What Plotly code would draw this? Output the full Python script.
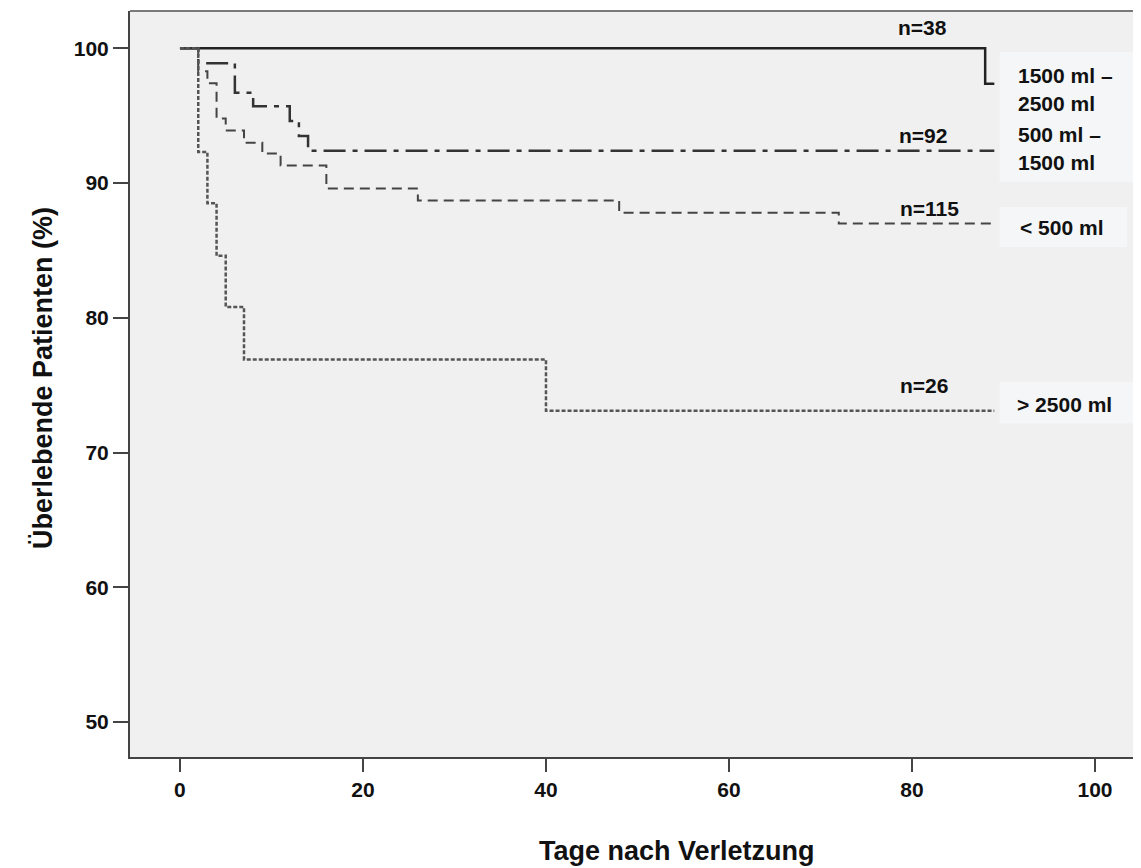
import plotly.graph_objects as go

# ---- data (Kaplan-Meier step values) ----
t_1500_2500 = [0, 88, 89]
s_1500_2500 = [100, 97.37, 97.37]

t_500_1500 = [0, 2, 6, 8, 12, 13, 14, 89]
s_500_1500 = [100, 98.9, 96.7, 95.7, 94.6, 93.5, 92.4, 92.4]

t_lt500 = [0, 2, 3, 4, 5, 7, 9, 11, 16, 26, 48, 72, 89]
s_lt500 = [100, 98.3, 97.4, 94.8, 93.9, 93.0, 92.2, 91.3, 89.6, 88.7, 87.8, 87.0, 87.0]

t_gt2500 = [0, 2, 3, 4, 5, 7, 40, 89]
s_gt2500 = [100, 92.3, 88.5, 84.6, 80.8, 76.9, 73.1, 73.1]

x_ticks = [0, 20, 40, 60, 80, 100]
y_ticks = [50, 60, 70, 80, 90, 100]

n_labels = ["n=38", "n=92", "n=115", "n=26"]
group_labels = ["1500 ml –", "2500 ml", "500 ml –", "1500 ml", "< 500 ml", "> 2500 ml"]

FONT = "Liberation Sans, Arial, sans-serif"

fig = go.Figure()

fig.add_trace(go.Scatter(x=t_1500_2500, y=s_1500_2500, mode="lines", line_shape="hv",
                         line=dict(color="#222222", width=2.5), showlegend=False))
fig.add_trace(go.Scatter(x=t_500_1500, y=s_500_1500, mode="lines", line_shape="hv",
                         line=dict(color="#333333", width=2.5, dash="22px,7px,5px,7px"), showlegend=False))
fig.add_trace(go.Scatter(x=t_lt500, y=s_lt500, mode="lines", line_shape="hv",
                         line=dict(color="#444444", width=2, dash="10px,6px"), showlegend=False))
fig.add_trace(go.Scatter(x=t_gt2500, y=s_gt2500, mode="lines", line_shape="hv",
                         line=dict(color="#555555", width=2.5, dash="4px,2px"), showlegend=False))

# label boxes
box_fill = "#f5f6f7"
shapes = [
    dict(type="rect", xref="x", yref="y", x0=89.6, x1=106, y0=90.07, y1=99.73,
         fillcolor=box_fill, line=dict(width=0), layer="below"),
    dict(type="rect", xref="x", yref="y", x0=89.6, x1=103.5, y0=85.25, y1=88.22,
         fillcolor=box_fill, line=dict(width=0), layer="below"),
    dict(type="rect", xref="x", yref="y", x0=89.6, x1=104.6, y0=72.18, y1=75.23,
         fillcolor=box_fill, line=dict(width=0), layer="below"),
    # top frame line
    dict(type="line", xref="paper", yref="paper", x0=0, x1=1, y0=1, y1=1,
         line=dict(color="#7a7a7a", width=2)),
]

ann_font = dict(family=FONT, size=21, color="#111111", weight="bold")
annotations = []
n_pos = [(81.2, 101.58), (81.2, 93.56), (81.9, 88.14), (81.3, 75.0)]
for txt, (ax, ay) in zip(n_labels, n_pos):
    annotations.append(dict(x=ax, y=ay, xref="x", yref="y", text=txt, showarrow=False,
                            font=ann_font, xanchor="center", yanchor="middle"))
g_pos = [(91.4, 98.02), (91.4, 95.94), (91.4, 93.63), (91.4, 91.56), (91.6, 86.73), (91.3, 73.59)]
for txt, (ax, ay) in zip(group_labels, g_pos):
    annotations.append(dict(x=ax, y=ay, xref="x", yref="y", text=txt, showarrow=False,
                            font=ann_font, xanchor="left", yanchor="middle"))

title_font = dict(family=FONT, size=27, color="#111111", weight="bold")
annotations.append(dict(x=-0.086, y=0.508, xref="paper", yref="paper",
                        text="Überlebende Patienten (%)", textangle=-90, showarrow=False,
                        font=title_font, xanchor="center", yanchor="middle"))
annotations.append(dict(x=0.541, y=-0.126, xref="paper", yref="paper",
                        text="Tage nach Verletzung", showarrow=False,
                        font=title_font, xanchor="center", yanchor="middle"))

tick_font = dict(family=FONT, size=21, color="#111111", weight="bold")

# page body has an 8px default margin; the figure is sized/offset to compensate
fig.update_layout(
    width=1133, height=860,
    margin=dict(l=122, r=0, t=3, b=111),
    paper_bgcolor="white",
    plot_bgcolor="#f0f0f0",
    shapes=shapes,
    annotations=annotations,
    xaxis=dict(range=[-5.46, 105.03], tickvals=x_ticks, ticktext=[str(v) for v in x_ticks],
               showgrid=False, zeroline=False, showline=True, linecolor="#444444", linewidth=2,
               ticks="outside", ticklen=13, tickwidth=2, tickcolor="#444444",
               tickfont=tick_font),
    yaxis=dict(range=[47.4, 102.77], tickvals=y_ticks, ticktext=[str(v) for v in y_ticks],
               showgrid=False, zeroline=False, showline=True, linecolor="#444444", linewidth=2,
               ticks="outside", ticklen=15, tickwidth=2, tickcolor="#444444",
               tickfont=tick_font),
)

fig.write_html("out.html")
